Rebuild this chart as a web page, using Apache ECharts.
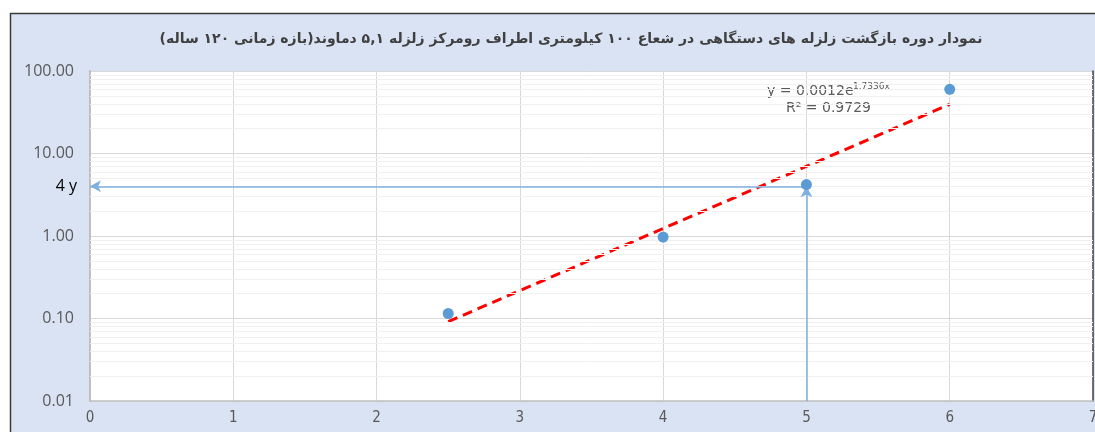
<!DOCTYPE html>
<html>
<head>
<meta charset="utf-8">
<script src="https://cdn.jsdelivr.net/npm/echarts@6/dist/echarts.min.js"></script>
<style>
  html, body { margin: 0; padding: 0; background: #ffffff; }
  #chart { width: 1095px; height: 432px; }
</style>
</head>
<body>
<div id="chart"></div>
<script>
// Magnitude-class index (x) and return period in years (y, log scale)
const magnitudes = [2.5, 4, 5, 6];
const returnPeriods = [0.115, 0.97, 4.2, 60];

// Exponential fit shown on the chart: y = a * e^(b x)
const trendA = 0.0012;
const trendB = 1.7336;
const trendR2 = 0.9729;
const trendRange = [2.5, 6];

// Read-off guide: return period of 4 years at x = 5
const guideX = 5;
const guideY = 4;
const guideLabel = '4 y';

const xTickLabels = ['0', '1', '2', '3', '4', '5', '6', '7'];
const yTickLabels = ['0.01', '0.10', '1.00', '10.00', '100.00'];
const yMinorLines = [0.02, 0.03, 0.04, 0.05, 0.06, 0.07, 0.08, 0.09,
                     0.2, 0.3, 0.4, 0.5, 0.6, 0.7, 0.8, 0.9,
                     2, 3, 4, 5, 6, 7, 8, 9,
                     20, 30, 40, 50, 60, 70, 80, 90];

const titleText = 'نمودار دوره بازگشت زلزله های دستگاهی در شعاع ۱۰۰ کیلومتری اطراف رومرکز زلزله ۵,۱ دماوند(بازه زمانی ۱۲۰ ساله)';

const trendData = trendRange.map(x => [x, trendA * Math.exp(trendB * x)]);
const pointData = magnitudes.map((x, i) => [x, returnPeriods[i]]);

const axisGrey = '#595959';
const chart = echarts.init(document.getElementById('chart'));

chart.setOption({
  animation: false,
  backgroundColor: '#ffffff',
  title: {
    text: '\u202B' + titleText + '\u202C',
    left: 566,
    textAlign: 'center',
    top: 27,
    textStyle: { fontFamily: 'DejaVu Sans', fontWeight: 'bold', fontSize: 14, color: '#404040' }
  },
  graphic: [
    {
      type: 'rect', z: -100, silent: true,
      shape: { x: 10.5, y: 13.5, width: 1100, height: 430 },
      style: { fill: '#dae3f3', stroke: '#3a3a3a', lineWidth: 1.5 }
    },
    {
      type: 'text', left: 767, top: 84, silent: true,
      style: { text: 'y = ' + trendA.toFixed(4) + 'e', font: '14px "DejaVu Sans"', fill: axisGrey }
    },
    {
      type: 'text', left: 853, top: 82, silent: true,
      style: { text: trendB.toFixed(4) + 'x', font: '9px "DejaVu Sans"', fill: axisGrey }
    },
    {
      type: 'text', left: 786, top: 101, silent: true,
      style: { text: 'R² = ' + trendR2.toFixed(4), font: '14px "DejaVu Sans"', fill: axisGrey }
    }
  ],
  grid: {
    left: 90, right: 2, top: 71, bottom: 31, outerBoundsMode: 'none', containLabel: false,
    show: true, backgroundColor: '#ffffff', borderWidth: 0
  },
  xAxis: {
    type: 'value', min: 0, max: 7, interval: 1,
    axisLine: { show: true, lineStyle: { color: '#bfbfbf', width: 1.5 } },
    axisTick: { show: false },
    splitLine: { show: true, lineStyle: { color: '#d9d9d9', width: 1 } },
    axisLabel: {
      margin: 10, color: axisGrey, fontSize: 15,
      fontFamily: '"Liberation Sans Narrow", "DejaVu Sans Condensed", "Roboto Condensed", sans-serif',
      formatter: (v, i) => xTickLabels[i]
    }
  },
  yAxis: [
    {
      type: 'log', logBase: 10, min: 0.01, max: 100,
      axisLine: { show: true, lineStyle: { color: '#bfbfbf', width: 2 } },
      axisTick: { show: false },
      splitLine: { show: true, lineStyle: { color: '#d9d9d9', width: 1 } },
      axisLabel: {
        margin: 16, color: axisGrey, fontSize: 16, fontFamily: 'Open Sans',
        formatter: (v, i) => yTickLabels[i]
      }
    },
    {
      type: 'log', logBase: 10, min: 0.01, max: 100, position: 'right',
      axisLine: { show: true, lineStyle: { color: '#404040', width: 1.5 } },
      axisTick: { show: false }, axisLabel: { show: false }, splitLine: { show: false }
    }
  ],
  series: [
    {
      // minor log gridlines between decades
      type: 'line', data: [], silent: true, z: 1,
      markLine: {
        silent: true, symbol: 'none', animation: false,
        label: { show: false },
        lineStyle: { color: '#f0f0f0', width: 1, type: 'solid' },
        data: yMinorLines.map(v => ({ yAxis: v }))
      }
    },
    {
      // horizontal and vertical read-off arrows
      type: 'line', data: [], silent: true, z: 3,
      markLine: {
        silent: true, animation: false,
        symbol: ['none', 'arrow'], symbolSize: [9, 11],
        lineStyle: { color: '#7fb1e0', width: 1.5, type: 'solid', opacity: 1 },
        itemStyle: { color: '#5b9bd5' },
        label: { show: false },
        data: [
          [
            { coord: [guideX, guideY] },
            {
              coord: [0, guideY],
              label: {
                show: true, position: 'end', formatter: guideLabel, distance: 13,
                color: '#000000', fontSize: 16, fontFamily: 'Open Sans'
              }
            }
          ],
          [ { coord: [guideX, 0.01] }, { coord: [guideX, guideY] } ]
        ]
      }
    },
    {
      type: 'line', data: trendData, showSymbol: false, symbol: 'none', z: 4,
      lineStyle: { color: '#ff0000', width: 3, type: [10, 6] }
    },
    {
      type: 'scatter', data: pointData, symbol: 'circle', symbolSize: 11, z: 5,
      itemStyle: { color: '#5b9bd5', opacity: 1 }
    }
  ]
});
</script>
</body>
</html>
